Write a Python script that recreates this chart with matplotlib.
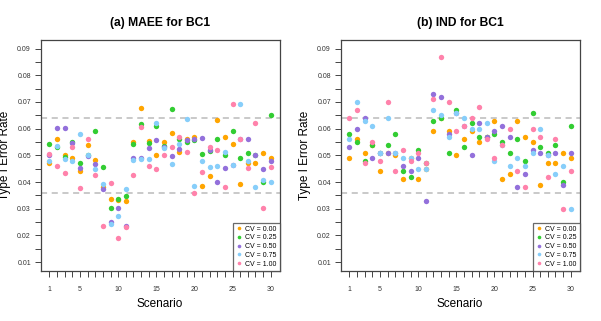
import matplotlib
matplotlib.use('Agg')
import matplotlib.pyplot as plt
from matplotlib.lines import Line2D
import numpy as np

plt.rcParams['font.family'] = ['Liberation Sans', 'DejaVu Sans']

scenarios = list(range(1, 31))
cv_labels = ['CV = 0.00', 'CV = 0.25', 'CV = 0.50', 'CV = 0.75', 'CV = 1.00']
colors = ['#FFA500', '#32CD32', '#9370DB', '#87CEFA', '#FF82AB']

# (a) MAEE for BC1
maee_cv000 = [0.047, 0.0561, 0.050, 0.0491, 0.044, 0.054, 0.0481, 0.038, 0.0337, 0.0331,
              0.0328, 0.0549, 0.0677, 0.0554, 0.050, 0.0551, 0.0582, 0.0512, 0.056, 0.0567,
              0.0384, 0.0424, 0.0631, 0.057, 0.0541, 0.0392, 0.047, 0.047, 0.051, 0.0491]
maee_cv025 = [0.0542, 0.053, 0.0494, 0.0551, 0.0471, 0.050, 0.0592, 0.0456, 0.0303, 0.0338,
              0.0347, 0.0541, 0.0617, 0.0546, 0.0611, 0.0534, 0.0672, 0.0562, 0.0551, 0.0556,
              0.0506, 0.0516, 0.0561, 0.050, 0.0593, 0.0491, 0.051, 0.050, 0.040, 0.0651]
maee_cv050 = [0.050, 0.0601, 0.0601, 0.0545, 0.0454, 0.0499, 0.0466, 0.0374, 0.0251, 0.0302,
              0.0236, 0.0490, 0.0491, 0.0526, 0.0557, 0.053, 0.0497, 0.0525, 0.0556, 0.0561,
              0.0565, 0.0519, 0.0402, 0.0451, 0.0465, 0.056, 0.0561, 0.050, 0.045, 0.048]
maee_cv075 = [0.0479, 0.0535, 0.0486, 0.0479, 0.0579, 0.050, 0.045, 0.0393, 0.0243, 0.0272,
              0.0374, 0.0483, 0.0486, 0.0486, 0.0620, 0.0527, 0.0466, 0.0541, 0.0638, 0.0387,
              0.048, 0.0456, 0.046, 0.0512, 0.0465, 0.0691, 0.048, 0.038, 0.0408, 0.0402]
maee_cv100 = [0.0506, 0.0461, 0.0434, 0.0532, 0.0377, 0.0561, 0.0425, 0.0236, 0.0397, 0.019,
              0.0231, 0.0425, 0.0606, 0.046, 0.0449, 0.050, 0.0531, 0.0567, 0.0514, 0.0359,
              0.0438, 0.0532, 0.0521, 0.0383, 0.0693, 0.0561, 0.0451, 0.0623, 0.0302, 0.0456]

# (b) IND for BC1
ind_cv000 = [0.049, 0.056, 0.051, 0.054, 0.044, 0.051, 0.050, 0.041, 0.049, 0.041,
             0.045, 0.059, 0.064, 0.059, 0.050, 0.056, 0.059, 0.055, 0.057, 0.063,
             0.041, 0.043, 0.063, 0.057, 0.055, 0.039, 0.047, 0.047, 0.051, 0.049]
ind_cv025 = [0.058, 0.055, 0.048, 0.054, 0.051, 0.054, 0.058, 0.044, 0.042, 0.052,
             0.047, 0.063, 0.064, 0.051, 0.067, 0.053, 0.062, 0.057, 0.057, 0.058,
             0.055, 0.051, 0.056, 0.048, 0.066, 0.053, 0.051, 0.054, 0.040, 0.061]
ind_cv050 = [0.053, 0.060, 0.064, 0.049, 0.051, 0.051, 0.051, 0.046, 0.044, 0.049,
             0.033, 0.073, 0.072, 0.058, 0.066, 0.061, 0.050, 0.062, 0.057, 0.059,
             0.061, 0.057, 0.038, 0.043, 0.052, 0.051, 0.050, 0.051, 0.039, 0.051]
ind_cv075 = [0.056, 0.070, 0.063, 0.061, 0.051, 0.064, 0.051, 0.049, 0.049, 0.045,
             0.045, 0.067, 0.065, 0.057, 0.066, 0.064, 0.060, 0.060, 0.062, 0.048,
             0.054, 0.046, 0.049, 0.046, 0.051, 0.060, 0.050, 0.043, 0.046, 0.030]
ind_cv100 = [0.064, 0.067, 0.047, 0.055, 0.048, 0.070, 0.044, 0.052, 0.048, 0.051,
             0.047, 0.071, 0.087, 0.070, 0.059, 0.061, 0.064, 0.068, 0.056, 0.049,
             0.054, 0.060, 0.044, 0.038, 0.060, 0.057, 0.042, 0.056, 0.030, 0.044]

lower_bound = 0.036
upper_bound = 0.064

panels = [
    ('(a) MAEE for BC1', [maee_cv000, maee_cv025, maee_cv050, maee_cv075, maee_cv100]),
    ('(b) IND for BC1', [ind_cv000, ind_cv025, ind_cv050, ind_cv075, ind_cv100]),
]

fig = plt.figure(figsize=(6.01, 3.21), dpi=100)
lefts = [40.7 / 601, 340.7 / 601]
box_color = '#444444'

for left, (title, series) in zip(lefts, panels):
    ax = fig.add_axes([left, 50.3 / 321, 238.8 / 601, 230.7 / 321])
    for vals, c in zip(series, colors):
        ax.scatter(scenarios, vals, s=15, color=c, linewidths=0, zorder=3)
    ax.axhline(upper_bound, color='#BBBBBB', ls=(0, (4, 3)), lw=1.1, zorder=1)
    ax.axhline(lower_bound, color='#BBBBBB', ls=(0, (4, 3)), lw=1.1, zorder=1)

    ax.set_xlim(-0.15, 31.15)
    ax.set_ylim(0.0068, 0.0932)
    ax.set_xticks(scenarios)
    ax.set_xticklabels([str(s) if s in (1, 5, 10, 15, 20, 25, 30) else '' for s in scenarios])
    yt = np.arange(0.01, 0.0901, 0.005)
    ax.set_yticks(yt)
    ax.set_yticklabels(['%.2f' % v if abs(v * 100 - round(v * 100)) < 1e-6 else '' for v in yt])
    ax.tick_params(axis='both', labelsize=5, length=4, width=0.7, color=box_color,
                   labelcolor='#333333')
    ax.tick_params(axis='x', pad=7)
    ax.tick_params(axis='y', pad=3)
    for sp in ax.spines.values():
        sp.set_color(box_color)
        sp.set_linewidth(0.9)

    ax.set_title(title, fontsize=8.7, fontweight='bold', pad=10)
    ax.set_xlabel('Scenario', fontsize=8.5)
    ax.set_ylabel('Type I Error Rate', fontsize=8.5)
    ax.xaxis.set_label_coords(0.5, -27 / 230.7)
    ax.yaxis.set_label_coords(-30 / 238.8, 0.5)

    handles = [Line2D([], [], marker='o', ls='none', color=c, markersize=2.6,
                      markeredgewidth=0) for c in colors]
    leg = ax.legend(handles, cv_labels, loc='lower right', fontsize=5,
                    frameon=True, fancybox=False, borderaxespad=0,
                    handlelength=0.8, handletextpad=0.4, labelspacing=0.25,
                    borderpad=0.45)
    leg.get_frame().set_edgecolor(box_color)
    leg.get_frame().set_linewidth(0.9)
    leg.set_zorder(5)

fig.savefig('out.png', dpi=100)
